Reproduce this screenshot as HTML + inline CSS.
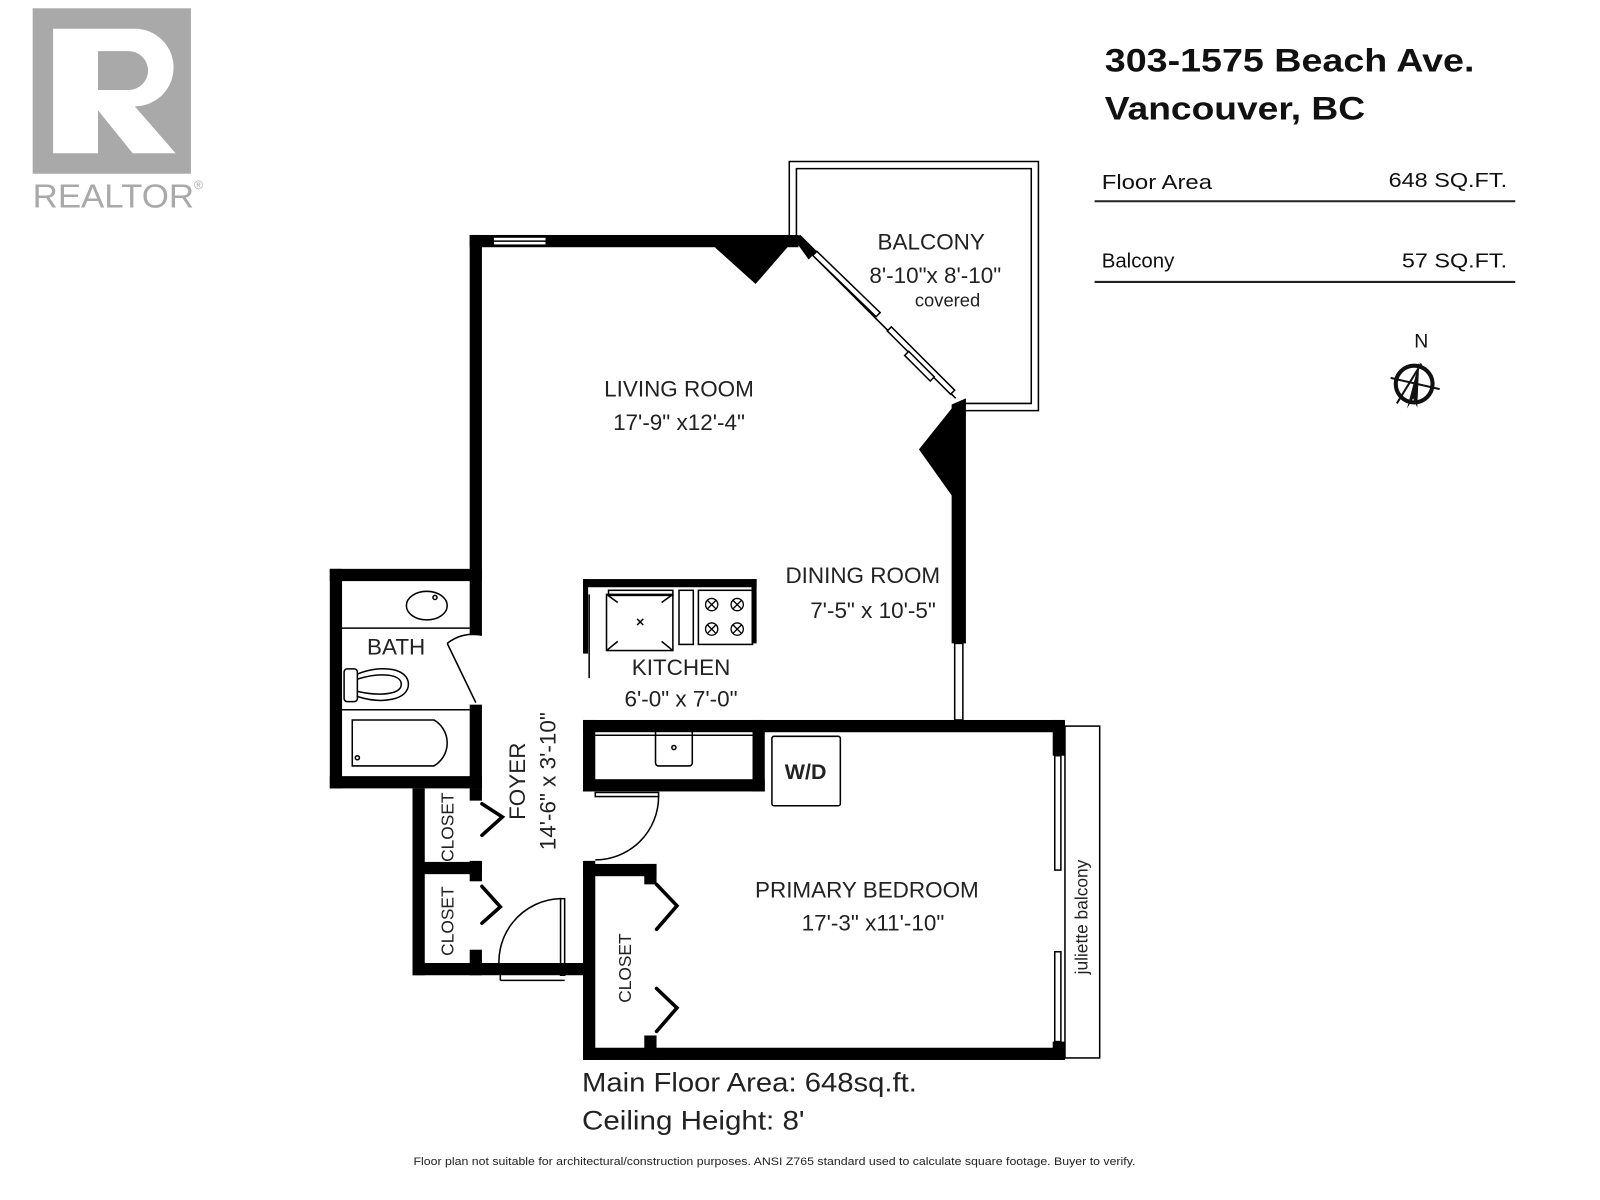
<!DOCTYPE html>
<html><head><meta charset="utf-8"><style>
html,body{margin:0;padding:0;background:#fff;}
svg{display:block;}
text{font-family:"Liberation Sans",sans-serif;}
</style></head><body>
<svg width="1600" height="1200" viewBox="0 0 1567 1175" xmlns="http://www.w3.org/2000/svg">
<rect width="1567" height="1175" fill="#fff"/>
<!-- REALTOR logo -->
<rect x="32" y="8" width="155" height="162" fill="#a9a9a9"/>
<path d="M52 28 H132 A38 38 0 0 1 132 104 L172 150 H130 L96 108 V150 H52 Z M96 50 V88 H126 A19 19 0 0 0 126 50 Z" fill="#fff"/>
<text x="32" y="203" font-size="33" fill="#a9a9a9" textLength="158" lengthAdjust="spacingAndGlyphs">REALTOR</text>
<text x="190" y="185" font-size="12" fill="#a9a9a9">®</text>
<!-- Title -->
<g font-weight="bold" fill="#111">
<text x="1082" y="70" font-size="32" textLength="362" lengthAdjust="spacingAndGlyphs">303-1575 Beach Ave.</text>
<text x="1082" y="117" font-size="32" textLength="255" lengthAdjust="spacingAndGlyphs">Vancouver, BC</text>
</g>
<g font-size="20" fill="#111">
<text x="1079" y="185" textLength="108" lengthAdjust="spacingAndGlyphs">Floor Area</text>
<text x="1476" y="183" text-anchor="end" textLength="116" lengthAdjust="spacingAndGlyphs">648 SQ.FT.</text>
<text x="1079" y="262">Balcony</text>
<text x="1476" y="262" text-anchor="end" textLength="103" lengthAdjust="spacingAndGlyphs">57 SQ.FT.</text>
</g>
<line x1="1072" y1="197" x2="1484" y2="197" stroke="#222" stroke-width="2"/>
<line x1="1072" y1="276" x2="1484" y2="276" stroke="#222" stroke-width="2"/>
<!-- compass -->
<text x="1392" y="340" font-size="19" text-anchor="middle" fill="#111">N</text>
<circle cx="1385" cy="376" r="18" fill="none" stroke="#111" stroke-width="4"/>
<line x1="1362" y1="370" x2="1410" y2="381" stroke="#111" stroke-width="2"/>
<path d="M1390 354 L1378 400 L1384 390 L1388 399 Z" fill="#111"/>
<line x1="1368" y1="395" x2="1392" y2="356" stroke="#111" stroke-width="2"/>

<g fill="#000" stroke="none">
<rect x="460" y="230" width="322" height="12"/>
<polygon points="700,242 780,232 740,278"/>
<polygon points="776,232 784,230 800,246 792,254"/>
<rect x="460" y="230" width="12" height="392"/>
<polygon points="932,396 946,390 946,630 932,630 932,485 900,440 932,400"/>
<rect x="323" y="557" width="149" height="12"/>
<rect x="323" y="557" width="12" height="215"/>
<rect x="323" y="760" width="149" height="12"/>
<rect x="460" y="690" width="12" height="82"/>
<rect x="404" y="772" width="12" height="183"/>
<rect x="404" y="943" width="150" height="12"/>
<rect x="404" y="844" width="68" height="12"/>
<rect x="460" y="772" width="12" height="12"/>
<rect x="460" y="843" width="12" height="20"/>
<rect x="460" y="930" width="12" height="25"/>
<rect x="551" y="943" width="26" height="12"/>
<rect x="571" y="705" width="12" height="70"/>
<rect x="571" y="763" width="178" height="12"/>
<rect x="737" y="705" width="12" height="70"/>
<rect x="571" y="705" width="472" height="12"/>
<rect x="571" y="843" width="12" height="195"/>
<rect x="571" y="1026" width="472" height="12"/>
<rect x="1031" y="705" width="12" height="35"/>
<rect x="1031" y="1020" width="12" height="18"/>
<rect x="571" y="846" width="72" height="12"/>
<rect x="631" y="846" width="12" height="20"/>
<rect x="631" y="1014" width="12" height="24"/>
<rect x="571" y="567" width="170" height="8"/>
<rect x="571" y="567" width="5" height="73"/>
<rect x="736" y="567" width="5" height="63"/>
</g>

<g fill="none" stroke="#000" stroke-width="1.5">
<rect x="483" y="232" width="52" height="8" fill="#fff"/>
<line x1="483" y1="236" x2="535" y2="236"/>
<line x1="796" y1="250" x2="936" y2="390"/>
<polygon points="800,246 862,306 858,310 796,250" fill="#fff"/>
<polygon points="873,320 935,382 931,386 869,324" fill="#fff"/>
<polygon points="890,344 915,369 911,373 886,348" fill="#fff"/>
<rect x="935" y="630" width="8" height="75" fill="#fff"/>
<polyline points="773,232 773,158 1017,158 1017,402 940,402"/>
<polyline points="780,232 780,165 1010,165 1010,395 945,395"/>
<rect x="1043" y="711" width="34" height="325"/>
<rect x="1033" y="740" width="6" height="112" fill="#fff"/>
<rect x="1033" y="932" width="6" height="88" fill="#fff"/>
<line x1="335" y1="615" x2="460" y2="615"/>
<ellipse cx="418" cy="593" rx="20" ry="14"/>
<circle cx="426" cy="585" r="2"/>
<line x1="335" y1="695" x2="460" y2="695"/>
<path d="M345 705 H425 A26 26 0 0 1 425 750 H345 Z"/>
<circle cx="350" cy="742" r="2"/>
<rect x="337" y="655" width="13" height="32" rx="3"/>
<path d="M350 660 C375 650 400 655 400 670 C400 685 375 690 350 682"/>
<path d="M350 665 C372 658 393 660 393 670 C393 680 372 682 350 677"/>
<path d="M472 622 A40 40 0 0 0 438 630"/>
<line x1="438" y1="630" x2="466" y2="688"/>
<rect x="594" y="582" width="65" height="55"/>
<rect x="596" y="578" width="63" height="5"/>
<path d="M594 582 L605 590 M659 582 L648 590 M594 637 L605 628 M659 637 L648 628 M624 606 l6 6 M630 606 l-6 6"/>
<rect x="665" y="578" width="14" height="53"/>
<rect x="684" y="578" width="53" height="53"/>
<g stroke-width="1.3">
<circle cx="697" cy="592" r="6"/><path d="M693 588 l8 8 M701 588 l-8 8"/>
<circle cx="722" cy="592" r="6"/><path d="M718 588 l8 8 M726 588 l-8 8"/>
<circle cx="697" cy="616" r="6"/><path d="M693 612 l8 8 M701 612 l-8 8"/>
<circle cx="722" cy="616" r="6"/><path d="M718 612 l8 8 M726 612 l-8 8"/>
</g>
<line x1="577" y1="582" x2="577" y2="664"/>
<line x1="583" y1="720" x2="737" y2="720"/>
<rect x="642" y="713" width="36" height="37" rx="3"/>
<circle cx="660" cy="732" r="2"/>
<rect x="756" y="721" width="67" height="68" rx="2"/>
<rect x="583" y="776" width="62" height="4"/>
<path d="M645 780 A62 62 0 0 1 583 842"/>
<rect x="549" y="880" width="4" height="75"/>
<path d="M490 955 A62 62 0 0 1 549 880"/>
<line x1="490" y1="955" x2="490" y2="960"/><line x1="490" y1="960" x2="553" y2="960"/>
<g stroke-width="3.5" stroke-linecap="round">
<polyline points="472,787 492,800 472,818"/>
<polyline points="472,868 490,888 472,904"/>
<polyline points="643,866 663,887 643,910"/>
<polyline points="643,968 663,987 643,1010"/>
</g>
</g>

<g fill="#222" font-size="22">
<text x="912" y="244" text-anchor="middle">BALCONY</text>
<text x="916" y="277" text-anchor="middle">8'-10"x 8'-10"</text>
<text x="928" y="300" text-anchor="middle" font-size="18">covered</text>
<text x="665" y="388" text-anchor="middle">LIVING ROOM</text>
<text x="665" y="421" text-anchor="middle">17'-9" x12'-4"</text>
<text x="845" y="571" text-anchor="middle">DINING ROOM</text>
<text x="855" y="605" text-anchor="middle">7'-5" x 10'-5"</text>
<text x="667" y="661" text-anchor="middle">KITCHEN</text>
<text x="667" y="692" text-anchor="middle">6'-0" x 7'-0"</text>
<text x="388" y="641" text-anchor="middle">BATH</text>
<text x="849" y="879" text-anchor="middle">PRIMARY BEDROOM</text>
<text x="855" y="911" text-anchor="middle">17'-3" x11'-10"</text>
<text transform="translate(514,765) rotate(-90)" text-anchor="middle">FOYER</text>
<text transform="translate(544,765) rotate(-90)" text-anchor="middle">14'-6" x 3'-10"</text>
<g font-size="17">
<text transform="translate(444,810) rotate(-90)" text-anchor="middle">CLOSET</text>
<text transform="translate(444,902) rotate(-90)" text-anchor="middle">CLOSET</text>
<text transform="translate(618,948) rotate(-90)" text-anchor="middle">CLOSET</text>
<text transform="translate(1065,898) rotate(-90)" text-anchor="middle">juliette balcony</text>
</g>
<text x="789" y="763" text-anchor="middle" font-weight="bold" font-size="21">W/D</text>
<text x="570" y="1069" font-size="26" textLength="328" lengthAdjust="spacingAndGlyphs">Main Floor Area: 648sq.ft.</text>
<text x="570" y="1106" font-size="26" textLength="218" lengthAdjust="spacingAndGlyphs">Ceiling Height: 8'</text>
<text x="405" y="1141" font-size="10.5" textLength="707" lengthAdjust="spacingAndGlyphs">Floor plan not suitable for architectural/construction purposes. ANSI Z765 standard used to calculate square footage. Buyer to verify.</text>
</g>
</svg>
</body></html>
